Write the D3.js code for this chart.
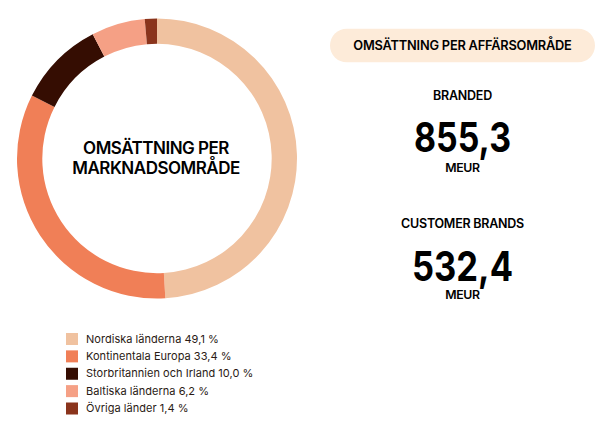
<!DOCTYPE html>
<html><head><meta charset="utf-8">
<script src="https://cdn.jsdelivr.net/npm/d3@7/dist/d3.min.js"></script>
<style>html,body{margin:0;padding:0;background:#fff}svg{display:block}text{font-family:Inter,"Noto Sans",sans-serif;fill:#000}</style>
</head><body><svg id="c" width="610" height="436"></svg>
<script>
const categories=["Nordiska länderna","Kontinentala Europa","Storbritannien och Irland","Baltiska länderna","Övriga länder"];
const shares=[49.1,33.4,10.0,6.2,1.4];
const shareLabels=["49,1 %","33,4 %","10,0 %","6,2 %","1,4 %"];
const colors=["#f0c2a0","#f07f57","#350d02","#f5a085","#8a341c"];
const centerLines=["OMSÄTTNING PER","MARKNADSOMRÅDE"];
const pillTitle="OMSÄTTNING PER AFFÄRSOMRÅDE";
const areas=["BRANDED","CUSTOMER BRANDS"];
const areaValues=["855,3","532,4"];
const unit="MEUR";

const svg=d3.select("#c");
const pie=d3.pie().sort(null).value(d=>d);
const arc=d3.arc().innerRadius(114.7).outerRadius(140);
const g=svg.append("g").attr("transform","translate(157,158.5)");
g.selectAll("path").data(pie(shares)).join("path").attr("d",arc).attr("fill",(d,i)=>colors[i]);
g.selectAll("text").data(centerLines).join("text").attr("text-anchor","middle").attr("x",-1)
 .attr("y",(d,i)=>-4.5+i*19.7).attr("font-size",17).attr("font-weight",600).attr("letter-spacing",-0.5).text(d=>d);

const yPos=d3.scalePoint().domain(categories).range([339,408.5]);
const row=svg.append("g").selectAll("g").data(categories).join("g").attr("transform",d=>`translate(0,${yPos(d)})`);
row.append("rect").attr("x",66).attr("y",-6).attr("width",12).attr("height",12).attr("fill",(d,i)=>colors[i]);
row.append("text").attr("x",86).attr("y",3.5).attr("font-size",11).attr("letter-spacing",0.03)
 .style("fill","#2a1a14").text((d,i)=>d+" "+shareLabels[i]);

svg.append("rect").attr("x",330).attr("y",28.7).attr("width",265).attr("height",33.6).attr("rx",16.8).attr("fill","#fdebd9");
const cx=462.5;
svg.append("text").attr("x",cx).attr("y",50).attr("text-anchor","middle").attr("font-size",12.8).attr("font-weight",600).attr("letter-spacing",-0.2).text(pillTitle);
const labelBase=[100,228];
const valueBase=[152,281];
const unitBase=[171.5,299];
const valueWidth=[97,101];
areas.forEach((a,i)=>{
 svg.append("text").attr("x",cx).attr("y",labelBase[i]).attr("text-anchor","middle").attr("font-size",12.5).attr("font-weight",600).attr("letter-spacing",-0.25).text(a);
 svg.append("text").attr("x",cx).attr("y",valueBase[i]).attr("text-anchor","middle").attr("font-size",41).attr("font-weight",700)
  .attr("textLength",valueWidth[i]).attr("lengthAdjust","spacingAndGlyphs").text(areaValues[i]);
 svg.append("text").attr("x",cx).attr("y",unitBase[i]).attr("text-anchor","middle").attr("font-size",12.3).attr("font-weight",600).attr("letter-spacing",-0.3).text(unit);
});
</script></body></html>
